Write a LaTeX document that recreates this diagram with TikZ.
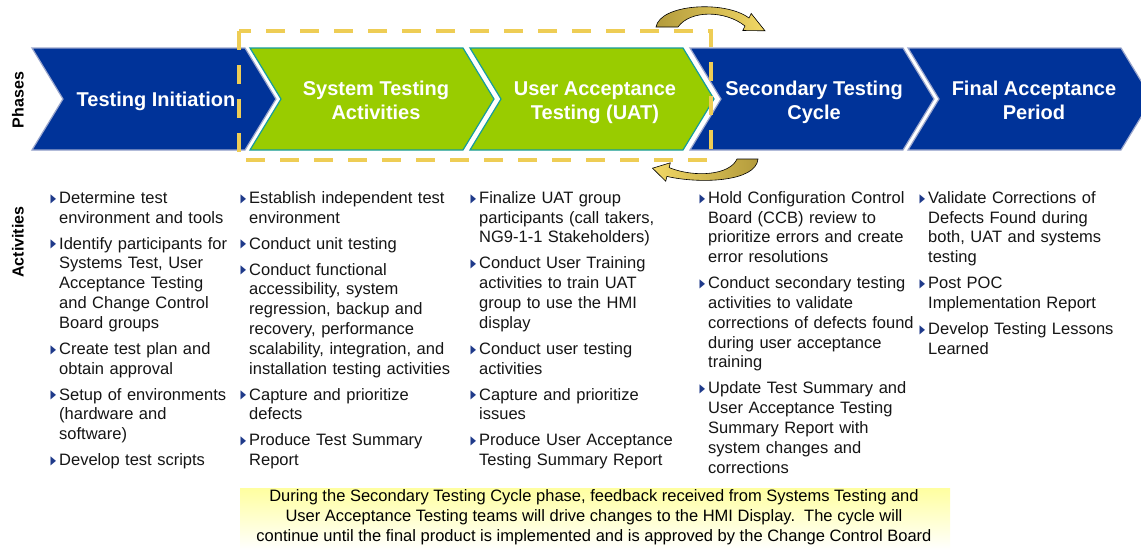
\documentclass[tikz,border=0pt]{standalone}
\usepackage{fontspec}
\usepackage{graphicx}
\setmainfont{Liberation Sans}
\newfontfamily\dejavu{DejaVu Sans}
\definecolor{phblue}{HTML}{003399}
\definecolor{phgreen}{HTML}{99CC00}
\definecolor{edgeteal}{HTML}{159C9C}
\definecolor{chevedge}{HTML}{9AA6CC}
\definecolor{dashy}{HTML}{EECD55}
\definecolor{bulc}{HTML}{1F3A8A}
\definecolor{txtc}{HTML}{151515}
\definecolor{golddark}{HTML}{B39B3C}
\definecolor{goldlight}{HTML}{F2D865}
\definecolor{notey}{RGB}{255,255,160}
\newcommand{\bul}{\hspace{2.5pt}\raisebox{1.2pt}{\textcolor{bulc}{\dejavu\fontsize{12}{12}\selectfont\scalebox{0.6}[1]{▶}}}}
\newcommand{\bi}[1]{\par\noindent\hangindent=11pt\hangafter=1\makebox[11pt][l]{\bul}#1\par}
\newcommand{\chev}[2]{\draw[#2] (#1,48) -- ++(213,0) -- ++(31,51) -- ++(-31,51) -- ++(-213,0) -- ++(31,-51) -- cycle;}
\tikzset{
  bluechev/.style={fill=phblue, draw=chevedge, line width=1.2pt},
  greenchev/.style={fill=phgreen, draw=edgeteal, line width=1.2pt},
  title/.style={text=white, align=center, inner sep=0pt, font=\fontsize{20}{24}\selectfont\bfseries},
  sidelabel/.style={rotate=90, inner sep=0pt, font=\fontsize{16}{18}\selectfont\bfseries, text=black},
  dashrect/.style={draw=dashy, line width=4.5pt, dash pattern=on 19pt off 15pt},
  arrowshape/.style={draw=black, line width=0.6pt},
  col/.style={anchor=north west, inner sep=0pt, text width=232pt, align=left, text=txtc, font=\fontsize{16.5}{19.8}\selectfont},
  notebox/.style={minimum width=710pt, minimum height=62pt, inner sep=0pt, top color=notey, bottom color=white, draw=none},
  notetext/.style={align=center, inner sep=0pt, text=black, font=\fontsize{16.5}{20}\selectfont}
}
\begin{document}
\begin{tikzpicture}[x=1pt,y=-1pt]
\useasboundingbox (0,0) rectangle (1141,550);
\clip (0,0) rectangle (1141,550);
\fill[white] (0,0) rectangle (1141,550);
% chevrons
\chev{32}{bluechev}
\chev{250}{greenchev}
\chev{470}{greenchev}
\chev{690}{bluechev}
\chev{908}{bluechev}
% titles
\node[title] (t1) at (156,101) {Testing Initiation};
\node[title] (t2) at (376,102.5) {System Testing\\Activities\vphantom{(g}};
\node[title] (t3) at (595,102.5) {User Acceptance\\Testing (UAT)\vphantom{(g}};
\node[title] (t4) at (814,102.5) {Secondary Testing\\Cycle\vphantom{(g}};
\node[title] (t5) at (1034,102.5) {Final Acceptance\\Period\vphantom{(g}};
% dashed box
\draw[dashrect] (239,31) rectangle (711,160);
% curved arrows
\path[arrowshape, left color=golddark, right color=goldlight]
  (656,27) .. controls (660,4) and (725,0) .. (749,18) -- (751.2,13.5) -- (765,30.8)
  -- (742.8,30.5) -- (745,26) .. controls (725,10) and (690,10) .. (678,27) -- cycle;
\path[arrowshape, left color=goldlight, right color=golddark]
  (758,159) .. controls (756,182) and (700,184) .. (666.9,176.4) -- (665.7,181.2) -- (652.5,168.2)
  -- (670.3,162.8) -- (669.1,167.6) .. controls (695,178) and (730,175) .. (737,159) -- cycle;
% side labels
\node[sidelabel] (phases) at (18,100) {Phases};
\node[sidelabel] (activities) at (18,242) {Activities};
% activity columns
\node[col] (c1) at (48,177) {\setlength{\parskip}{6.2pt}%
\bi{Determine test\newline environment and tools}
\bi{Identify participants for\newline Systems Test, User\newline Acceptance Testing\newline and Change Control\newline Board groups}
\bi{Create test plan and\newline obtain approval}
\bi{Setup of environments\newline (hardware and\newline software)}
\bi{Develop test scripts}};
\node[col] (c2) at (238,177) {\setlength{\parskip}{6.2pt}%
\bi{Establish independent test\newline environment}
\bi{Conduct unit testing}
\bi{Conduct functional\newline accessibility, system\newline regression, backup and\newline recovery, performance\newline scalability, integration, and\newline installation testing activities}
\bi{Capture and prioritize\newline defects}
\bi{Produce Test Summary\newline Report}};
\node[col] (c3) at (468,177) {\setlength{\parskip}{6.2pt}%
\bi{Finalize UAT group\newline participants (call takers,\newline NG9-1-1 Stakeholders)}
\bi{Conduct User Training\newline activities to train UAT\newline group to use the HMI\newline display}
\bi{Conduct user testing\newline activities}
\bi{Capture and prioritize\newline issues}
\bi{Produce User Acceptance\newline Testing Summary Report}};
\node[col] (c4) at (697,177) {\setlength{\parskip}{6.2pt}%
\bi{Hold Configuration Control\newline Board (CCB) review to\newline prioritize errors and create\newline error resolutions}
\bi{Conduct secondary testing\newline activities to validate\newline corrections of defects found\newline during user acceptance\newline training}
\bi{Update Test Summary and\newline User Acceptance Testing\newline Summary Report with\newline system changes and\newline corrections}};
\node[col] (c5) at (917,177) {\setlength{\parskip}{6.2pt}%
\bi{Validate Corrections of\newline Defects Found during\newline both, UAT and systems\newline testing}
\bi{Post POC\newline Implementation Report}
\bi{Develop Testing Lessons\newline Learned}};
% note
\node[notebox] (note) at (595,519) {};
\node[notetext] (notetxt) at (594,517) {During the Secondary Testing Cycle phase, feedback received from Systems Testing and\\User Acceptance Testing teams will drive changes to the HMI Display.\ \ The cycle will\\continue until the final product is implemented and is approved by the Change Control Board};
\end{tikzpicture}
\end{document}
